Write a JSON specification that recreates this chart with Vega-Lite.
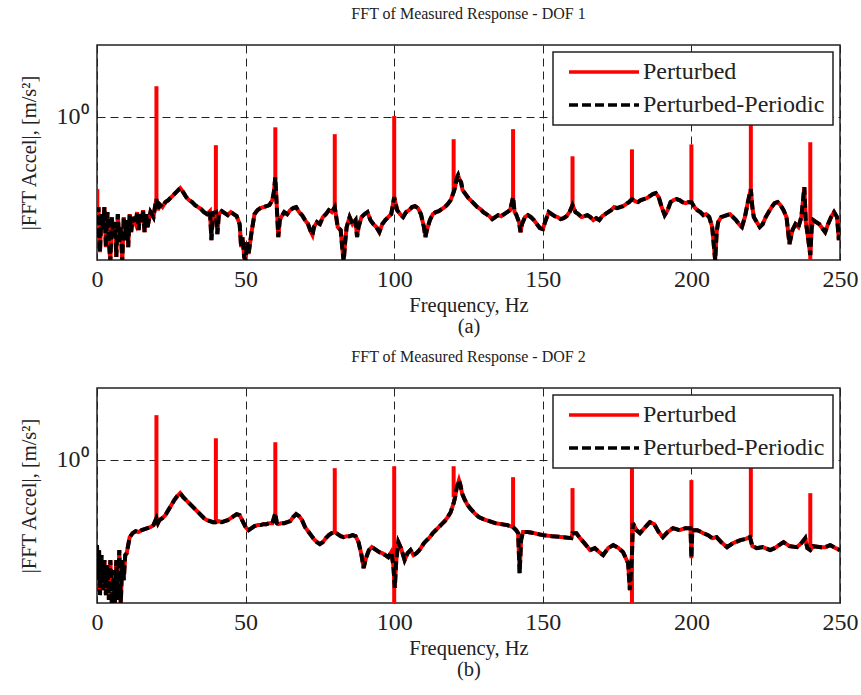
{
"$schema": "https://vega.github.io/schema/vega-lite/v6.json",
"background": "white",
"padding": {"left": 18, "top": 5, "right": 5, "bottom": 5},
"spacing": 10,
"config": {
  "font": "Liberation Serif",
  "view": {"stroke": "#222", "strokeWidth": 1.5},
  "axis": {"labelFont": "Liberation Serif", "titleFont": "Liberation Serif", "labelFontSize": 24, "titleFontSize": 20.5, "labelColor": "#222", "titleColor": "#222", "titleFontWeight": "normal", "domain": false, "ticks": false, "grid": true, "gridColor": "#222", "gridDash": [8, 5], "gridOpacity": 1, "gridWidth": 1, "labelFlush": false},
  "title": {"font": "Liberation Serif", "fontSize": 16, "fontWeight": "normal", "color": "#222", "offset": 23},
  "legend": {"strokeWidth": 1.5}
},
"datasets": {
"b1": [
{"f":0,"b":0.0209},{"f":0.5,"b":0.0547},{"f":1,"b":0.0129},{"f":1.5,"b":0.0436},{"f":2,"b":0.0261},{"f":2.5,"b":0.0547},{"f":3,"b":0.0151},{"f":3.5,"b":0.0466},{"f":4,"b":0.0178},{"f":4.5,"b":0.0095},{"f":5,"b":0.0397},{"f":5.5,"b":0.0209},{"f":6,"b":0.0338},{"f":6.5,"b":0.0110},{"f":7,"b":0.0436},{"f":7.5,"b":0.0178},{"f":8,"b":0.0288},{"f":8.5,"b":0.0095},{"f":9,"b":0.0397},{"f":9.5,"b":0.0190},{"f":10,"b":0.0360},{"f":10.5,"b":0.0151},{"f":11,"b":0.0436},{"f":11.5,"b":0.0245},{"f":12,"b":0.0397},{"f":13,"b":0.0317},{"f":13.5,"b":0.0466},{"f":14,"b":0.0261},{"f":14.5,"b":0.0436},{"f":15,"b":0.0338},{"f":15.5,"b":0.0496},{"f":16,"b":0.0245},{"f":16.5,"b":0.0436},{"f":17,"b":0.0288},{"f":18,"b":0.0466},{"f":19,"b":0.0397},{"f":19.5,"b":0.0547},{"f":20,"b":0.0707},{"f":20.5,"b":0.0496},{"f":21,"b":0.0602},{"f":22,"b":0.0547},{"f":23,"b":0.0642},{"f":24,"b":0.0684},{"f":25,"b":0.0754},{"f":26,"b":0.0830},{"f":27,"b":0.0914},{"f":28,"b":0.1007},{"f":29,"b":0.0885},{"f":30,"b":0.0754},{"f":31,"b":0.0684},{"f":32,"b":0.0642},{"f":33,"b":0.0583},{"f":34,"b":0.0547},{"f":35,"b":0.0513},{"f":36,"b":0.0466},{"f":37,"b":0.0436},{"f":38,"b":0.0481},{"f":38.5,"b":0.0190},{"f":39,"b":0.0451},{"f":40,"b":0.0466},{"f":40.5,"b":0.0230},{"f":41,"b":0.0436},{"f":42,"b":0.0481},{"f":43,"b":0.0451},{"f":44,"b":0.0423},{"f":45,"b":0.0466},{"f":46,"b":0.0436},{"f":47,"b":0.0409},{"f":48,"b":0.0317},{"f":48.5,"b":0.0151},{"f":49,"b":0.0209},{"f":49.5,"b":0.0110},{"f":50,"b":0.0098},{"f":50.5,"b":0.0178},{"f":51,"b":0.0121},{"f":52,"b":0.0245},{"f":53,"b":0.0436},{"f":54,"b":0.0496},{"f":55,"b":0.0529},{"f":56,"b":0.0547},{"f":57,"b":0.0564},{"f":58,"b":0.0583},{"f":59,"b":0.0684},{"f":59.5,"b":0.0885},{"f":60,"b":0.1433},{"f":60.5,"b":0.0547},{"f":61,"b":0.0209},{"f":61.5,"b":0.0360},{"f":62,"b":0.0397},{"f":63,"b":0.0466},{"f":64,"b":0.0436},{"f":65,"b":0.0496},{"f":66,"b":0.0529},{"f":67,"b":0.0547},{"f":68,"b":0.0466},{"f":69,"b":0.0423},{"f":70,"b":0.0360},{"f":71,"b":0.0317},{"f":72,"b":0.0245},{"f":72.5,"b":0.0223},{"f":73,"b":0.0288},{"f":74,"b":0.0338},{"f":75,"b":0.0317},{"f":76,"b":0.0397},{"f":77,"b":0.0436},{"f":78,"b":0.0496},{"f":79,"b":0.0466},{"f":80,"b":0.0547},{"f":80.5,"b":0.0397},{"f":81,"b":0.0288},{"f":82,"b":0.0261},{"f":82.5,"b":0.0151},{"f":83,"b":0.0094},{"f":83.5,"b":0.0178},{"f":84,"b":0.0288},{"f":85,"b":0.0397},{"f":86,"b":0.0317},{"f":87,"b":0.0360},{"f":87.5,"b":0.0209},{"f":88,"b":0.0288},{"f":89,"b":0.0397},{"f":90,"b":0.0436},{"f":91,"b":0.0466},{"f":92,"b":0.0360},{"f":93,"b":0.0317},{"f":94,"b":0.0288},{"f":95,"b":0.0245},{"f":96,"b":0.0317},{"f":97,"b":0.0360},{"f":98,"b":0.0397},{"f":99,"b":0.0436},{"f":100,"b":0.0754},{"f":101,"b":0.0496},{"f":102,"b":0.0436},{"f":103,"b":0.0397},{"f":104,"b":0.0466},{"f":105,"b":0.0496},{"f":106,"b":0.0547},{"f":107,"b":0.0564},{"f":108,"b":0.0529},{"f":109,"b":0.0436},{"f":110,"b":0.0288},{"f":110.5,"b":0.0209},{"f":111,"b":0.0261},{"f":112,"b":0.0360},{"f":113,"b":0.0436},{"f":114,"b":0.0466},{"f":115,"b":0.0481},{"f":116,"b":0.0513},{"f":117,"b":0.0547},{"f":118,"b":0.0602},{"f":119,"b":0.0684},{"f":120,"b":0.0885},{"f":120.5,"b":0.1039},{"f":121,"b":0.1387},{"f":121.5,"b":0.1527},{"f":122,"b":0.1301},{"f":122.5,"b":0.1221},{"f":123,"b":0.0944},{"f":124,"b":0.0830},{"f":125,"b":0.0730},{"f":126,"b":0.0663},{"f":127,"b":0.0602},{"f":128,"b":0.0547},{"f":129,"b":0.0513},{"f":130,"b":0.0466},{"f":131,"b":0.0436},{"f":132,"b":0.0409},{"f":133,"b":0.0372},{"f":134,"b":0.0397},{"f":135,"b":0.0423},{"f":136,"b":0.0409},{"f":137,"b":0.0436},{"f":138,"b":0.0466},{"f":139,"b":0.0496},{"f":140,"b":0.0754},{"f":140.5,"b":0.0466},{"f":141,"b":0.0436},{"f":142,"b":0.0338},{"f":142.5,"b":0.0245},{"f":143,"b":0.0317},{"f":144,"b":0.0397},{"f":145,"b":0.0423},{"f":146,"b":0.0397},{"f":147,"b":0.0360},{"f":148,"b":0.0317},{"f":149,"b":0.0279},{"f":150,"b":0.0270},{"f":151,"b":0.0360},{"f":152,"b":0.0466},{"f":153,"b":0.0436},{"f":154,"b":0.0409},{"f":155,"b":0.0397},{"f":156,"b":0.0372},{"f":157,"b":0.0384},{"f":158,"b":0.0409},{"f":159,"b":0.0466},{"f":160,"b":0.0583},{"f":161,"b":0.0466},{"f":162,"b":0.0436},{"f":163,"b":0.0397},{"f":164,"b":0.0409},{"f":165,"b":0.0423},{"f":166,"b":0.0397},{"f":167,"b":0.0360},{"f":168,"b":0.0384},{"f":169,"b":0.0360},{"f":170,"b":0.0409},{"f":171,"b":0.0436},{"f":172,"b":0.0466},{"f":173,"b":0.0496},{"f":174,"b":0.0547},{"f":175,"b":0.0529},{"f":176,"b":0.0547},{"f":177,"b":0.0564},{"f":178,"b":0.0602},{"f":179,"b":0.0642},{"f":180,"b":0.0707},{"f":181,"b":0.0663},{"f":182,"b":0.0642},{"f":183,"b":0.0684},{"f":184,"b":0.0707},{"f":185,"b":0.0730},{"f":186,"b":0.0778},{"f":187,"b":0.0830},{"f":188,"b":0.0857},{"f":189,"b":0.0754},{"f":190,"b":0.0547},{"f":191,"b":0.0423},{"f":192,"b":0.0496},{"f":193,"b":0.0642},{"f":194,"b":0.0684},{"f":195,"b":0.0707},{"f":196,"b":0.0684},{"f":197,"b":0.0642},{"f":198,"b":0.0621},{"f":199,"b":0.0642},{"f":200,"b":0.0642},{"f":201,"b":0.0547},{"f":202,"b":0.0496},{"f":203,"b":0.0466},{"f":204,"b":0.0423},{"f":205,"b":0.0436},{"f":206,"b":0.0397},{"f":207,"b":0.0288},{"f":208,"b":0.0098},{"f":208.5,"b":0.0245},{"f":209,"b":0.0338},{"f":210,"b":0.0397},{"f":211,"b":0.0409},{"f":212,"b":0.0423},{"f":213,"b":0.0436},{"f":214,"b":0.0397},{"f":215,"b":0.0360},{"f":216,"b":0.0317},{"f":217,"b":0.0288},{"f":218,"b":0.0397},{"f":219,"b":0.0642},{"f":220,"b":0.0975},{"f":220.5,"b":0.0547},{"f":221,"b":0.0397},{"f":222,"b":0.0338},{"f":223,"b":0.0288},{"f":224,"b":0.0317},{"f":225,"b":0.0397},{"f":226,"b":0.0466},{"f":227,"b":0.0547},{"f":228,"b":0.0621},{"f":229,"b":0.0642},{"f":230,"b":0.0583},{"f":231,"b":0.0496},{"f":232,"b":0.0397},{"f":233,"b":0.0167},{"f":234,"b":0.0261},{"f":235,"b":0.0317},{"f":236,"b":0.0288},{"f":237,"b":0.0397},{"f":238,"b":0.1039},{"f":238.5,"b":0.0338},{"f":239,"b":0.0245},{"f":240,"b":0.0117},{"f":240.5,"b":0.0288},{"f":241,"b":0.0360},{"f":242,"b":0.0338},{"f":243,"b":0.0317},{"f":244,"b":0.0279},{"f":245,"b":0.0245},{"f":246,"b":0.0317},{"f":247,"b":0.0397},{"f":248,"b":0.0466},{"f":249,"b":0.0397},{"f":249.6,"b":0.0190},{"f":250,"b":0.0288}
],
"s1": [
{"f":0.1,"lo":0.0209,"hi":0.0975},{"f":20,"lo":0.0707,"hi":2.66},{"f":40,"lo":0.0466,"hi":0.40},{"f":60,"lo":0.1433,"hi":0.71},{"f":80,"lo":0.0547,"hi":0.57},{"f":100,"lo":0.0754,"hi":1.02},{"f":120,"lo":0.0885,"hi":0.485},{"f":140,"lo":0.0754,"hi":0.67},{"f":160,"lo":0.0583,"hi":0.28},{"f":180,"lo":0.0707,"hi":0.35},{"f":200,"lo":0.0642,"hi":0.41},{"f":220,"lo":0.0975,"hi":0.84},{"f":240,"lo":0.0098,"hi":0.44}
],
"b2": [
{"f":0,"b":0.0642},{"f":0.3,"b":0.0209},{"f":0.7,"b":0.0547},{"f":1,"b":0.0129},{"f":1.5,"b":0.0466},{"f":2,"b":0.0151},{"f":2.5,"b":0.0397},{"f":3,"b":0.0129},{"f":3.5,"b":0.0338},{"f":4,"b":0.0110},{"f":4.5,"b":0.0397},{"f":5,"b":0.0095},{"f":5.5,"b":0.0288},{"f":6,"b":0.0095},{"f":6.5,"b":0.0397},{"f":7,"b":0.0110},{"f":7.5,"b":0.0547},{"f":8,"b":0.0095},{"f":8.5,"b":0.0397},{"f":9,"b":0.0209},{"f":9.5,"b":0.0466},{"f":10,"b":0.0496},{"f":11,"b":0.0830},{"f":12,"b":0.0944},{"f":13,"b":0.1007},{"f":14,"b":0.0975},{"f":15,"b":0.1039},{"f":16,"b":0.1073},{"f":17,"b":0.1108},{"f":18,"b":0.1145},{"f":19,"b":0.1221},{"f":20,"b":0.1527},{"f":20.5,"b":0.1301},{"f":21,"b":0.1433},{"f":22,"b":0.1527},{"f":23,"b":0.1682},{"f":24,"b":0.1976},{"f":25,"b":0.2320},{"f":26,"b":0.2723},{"f":27,"b":0.3094},{"f":28,"b":0.341},{"f":29,"b":0.300},{"f":30,"b":0.2723},{"f":31,"b":0.2474},{"f":32,"b":0.2247},{"f":33,"b":0.2040},{"f":34,"b":0.1852},{"f":35,"b":0.1682},{"f":36,"b":0.1527},{"f":37,"b":0.1433},{"f":38,"b":0.1387},{"f":39,"b":0.1343},{"f":40,"b":0.1343},{"f":41,"b":0.1387},{"f":42,"b":0.1343},{"f":43,"b":0.1387},{"f":44,"b":0.1433},{"f":45,"b":0.1527},{"f":46,"b":0.1629},{"f":47,"b":0.1737},{"f":48,"b":0.1682},{"f":49,"b":0.1387},{"f":50,"b":0.1145},{"f":51,"b":0.1039},{"f":52,"b":0.1108},{"f":53,"b":0.1182},{"f":54,"b":0.1221},{"f":55,"b":0.1221},{"f":56,"b":0.1260},{"f":57,"b":0.1260},{"f":58,"b":0.1301},{"f":59,"b":0.1301},{"f":60,"b":0.1794},{"f":60.5,"b":0.1301},{"f":61,"b":0.1260},{"f":62,"b":0.1301},{"f":63,"b":0.1301},{"f":64,"b":0.1343},{"f":65,"b":0.1387},{"f":66,"b":0.1577},{"f":67,"b":0.1737},{"f":68,"b":0.1629},{"f":69,"b":0.1433},{"f":70,"b":0.1145},{"f":71,"b":0.1007},{"f":72,"b":0.0885},{"f":73,"b":0.0778},{"f":74,"b":0.0707},{"f":75,"b":0.0663},{"f":76,"b":0.0707},{"f":77,"b":0.0804},{"f":78,"b":0.0885},{"f":79,"b":0.0944},{"f":80,"b":0.0975},{"f":81,"b":0.0914},{"f":82,"b":0.0857},{"f":83,"b":0.0830},{"f":84,"b":0.0857},{"f":85,"b":0.0857},{"f":86,"b":0.0885},{"f":87,"b":0.0857},{"f":88,"b":0.0707},{"f":89,"b":0.0466},{"f":89.7,"b":0.0307},{"f":90.5,"b":0.0423},{"f":91.5,"b":0.0547},{"f":92.5,"b":0.0602},{"f":94,"b":0.0547},{"f":95,"b":0.0513},{"f":96,"b":0.0496},{"f":97,"b":0.0466},{"f":98,"b":0.0436},{"f":99,"b":0.0513},{"f":99.7,"b":0.0338},{"f":100.2,"b":0.0162},{"f":100.7,"b":0.0397},{"f":101.4,"b":0.0707},{"f":102.3,"b":0.0583},{"f":103.5,"b":0.0397},{"f":104.5,"b":0.0496},{"f":105.5,"b":0.0547},{"f":106.5,"b":0.0466},{"f":107.5,"b":0.0496},{"f":108.5,"b":0.0547},{"f":110,"b":0.0684},{"f":111,"b":0.0754},{"f":112,"b":0.0830},{"f":113,"b":0.0944},{"f":114,"b":0.1039},{"f":115,"b":0.1145},{"f":116,"b":0.1260},{"f":117,"b":0.1387},{"f":118,"b":0.1577},{"f":119,"b":0.1852},{"f":120,"b":0.2474},{"f":120.5,"b":0.300},{"f":121,"b":0.400},{"f":121.8,"b":0.518},{"f":122.3,"b":0.441},{"f":122.8,"b":0.341},{"f":123.5,"b":0.2907},{"f":124.5,"b":0.2397},{"f":125.5,"b":0.2107},{"f":127,"b":0.1794},{"f":128.5,"b":0.1577},{"f":130,"b":0.1479},{"f":132,"b":0.1387},{"f":134,"b":0.1301},{"f":136,"b":0.1260},{"f":138,"b":0.1221},{"f":140,"b":0.1145},{"f":141,"b":0.1039},{"f":141.7,"b":0.0944},{"f":142.2,"b":0.0261},{"f":142.7,"b":0.0754},{"f":143.3,"b":0.0975},{"f":145,"b":0.0975},{"f":147,"b":0.0944},{"f":150,"b":0.0885},{"f":153,"b":0.0857},{"f":156.8,"b":0.0830},{"f":159.6,"b":0.0804},{"f":160,"b":0.0944},{"f":161.3,"b":0.0944},{"f":162.5,"b":0.0804},{"f":164,"b":0.0684},{"f":165.9,"b":0.0547},{"f":167.5,"b":0.0583},{"f":169,"b":0.0513},{"f":170.3,"b":0.0466},{"f":172,"b":0.0583},{"f":173.7,"b":0.0642},{"f":175.5,"b":0.0583},{"f":177,"b":0.0513},{"f":178.7,"b":0.0360},{"f":179.3,"b":0.0151},{"f":180,"b":0.0466},{"f":180.3,"b":0.1301},{"f":181.5,"b":0.1039},{"f":182.7,"b":0.0944},{"f":184.5,"b":0.1145},{"f":186,"b":0.1343},{"f":187.5,"b":0.1260},{"f":189,"b":0.0975},{"f":190.4,"b":0.0830},{"f":192,"b":0.0975},{"f":193.8,"b":0.1108},{"f":196,"b":0.1039},{"f":198,"b":0.1108},{"f":199.7,"b":0.1108},{"f":200,"b":0.0423},{"f":200.3,"b":0.1039},{"f":202,"b":0.1039},{"f":204,"b":0.0944},{"f":205.6,"b":0.0885},{"f":207,"b":0.0804},{"f":208.5,"b":0.0830},{"f":210,"b":0.0707},{"f":212,"b":0.0602},{"f":214,"b":0.0684},{"f":216.5,"b":0.0754},{"f":218,"b":0.0778},{"f":219.7,"b":0.0830},{"f":220.5,"b":0.0621},{"f":222,"b":0.0583},{"f":224,"b":0.0602},{"f":226.5,"b":0.0547},{"f":228,"b":0.0583},{"f":230,"b":0.0663},{"f":231,"b":0.0707},{"f":233,"b":0.0621},{"f":235.5,"b":0.0602},{"f":237,"b":0.0684},{"f":238.3,"b":0.0804},{"f":239,"b":0.0583},{"f":240,"b":0.0547},{"f":241,"b":0.0621},{"f":243.4,"b":0.0602},{"f":245,"b":0.0602},{"f":246.7,"b":0.0642},{"f":248.5,"b":0.0583},{"f":250,"b":0.0547}
],
"s2": [
{"f":20,"lo":0.1527,"hi":4.18},{"f":40,"lo":0.1343,"hi":1.99},{"f":60,"lo":0.1794,"hi":1.75},{"f":80,"lo":0.0975,"hi":0.761},{"f":100,"lo":0.0095,"hi":0.811},{"f":120,"lo":0.300,"hi":0.81},{"f":140,"lo":0.1145,"hi":0.570},{"f":160,"lo":0.0944,"hi":0.401},{"f":180,"lo":0.0095,"hi":1.12},{"f":200,"lo":0.1039,"hi":0.518},{"f":220,"lo":0.0830,"hi":0.81},{"f":240,"lo":0.0547,"hi":0.341}
]
},
"resolve": {"scale": {"color": "independent", "strokeDash": "independent"}},
"vconcat": [
{
  "width": 743, "height": 215,
  "title": "FFT of Measured Response - DOF 1",
  "encoding": {"x": {"field": "f", "type": "quantitative", "scale": {"domain": [0, 250], "nice": false}, "axis": {"values": [0, 50, 100, 150, 200, 250], "title": ["Frequency, Hz", "(a)"], "labelPadding": 7, "titlePadding": 4, "titleLineHeight": 21}}},
  "layer": [
    {"data": {"name": "b1"}, "mark": {"type": "line", "strokeWidth": 4, "clip": true},
     "encoding": {
       "y": {"field": "b", "type": "quantitative", "scale": {"type": "log", "domain": [0.01, 10], "nice": false}, "axis": {"values": [1], "labelExpr": "'10⁰'", "title": "|FFT Accel|, [m/s²]", "labelPadding": 9, "titlePadding": 17}},
       "color": {"datum": "Perturbed", "type": "nominal", "scale": {"domain": ["Perturbed", "Perturbed-Periodic"], "range": ["#ff0000", "#000000"]},
         "legend": {"orient": "top-right", "offset": 7, "title": null, "symbolType": "M-5,0H5", "symbolSize": 196, "symbolStrokeWidth": 3.5, "symbolOffset": 31, "labelFontSize": 24, "labelFont": "Liberation Serif", "labelColor": "#222", "labelLimit": 400, "padding": 8, "rowPadding": 9, "fillColor": "white", "strokeColor": "#222", "labelOffset": 27}},
       "strokeDash": {"datum": "Perturbed", "type": "nominal", "scale": {"domain": ["Perturbed", "Perturbed-Periodic"], "range": [[1, 0], [9, 4]]},
         "legend": {"orient": "top-right", "offset": 7, "title": null, "symbolType": "M-5,0H5", "symbolSize": 196, "symbolStrokeWidth": 3.5, "symbolOffset": 31, "labelFontSize": 24, "labelFont": "Liberation Serif", "labelColor": "#222", "labelLimit": 400, "padding": 8, "rowPadding": 9, "fillColor": "white", "strokeColor": "#222", "labelOffset": 27}}
     }},
    {"data": {"name": "s1"}, "mark": {"type": "rule", "color": "#ff0000", "strokeWidth": 4, "clip": true},
     "encoding": {"y": {"field": "lo", "type": "quantitative"}, "y2": {"field": "hi"}}},
    {"data": {"name": "b1"}, "mark": {"type": "line", "strokeWidth": 4, "clip": true},
     "encoding": {
       "y": {"field": "b", "type": "quantitative"},
       "color": {"datum": "Perturbed-Periodic", "type": "nominal"},
       "strokeDash": {"datum": "Perturbed-Periodic", "type": "nominal"}
     }}
  ]
},
{
  "width": 743, "height": 215,
  "title": "FFT of Measured Response - DOF 2",
  "encoding": {"x": {"field": "f", "type": "quantitative", "scale": {"domain": [0, 250], "nice": false}, "axis": {"values": [0, 50, 100, 150, 200, 250], "title": ["Frequency, Hz", "(b)"], "labelPadding": 7, "titlePadding": 4, "titleLineHeight": 21}}},
  "layer": [
    {"data": {"name": "b2"}, "mark": {"type": "line", "strokeWidth": 4, "clip": true},
     "encoding": {
       "y": {"field": "b", "type": "quantitative", "scale": {"type": "log", "domain": [0.01, 10], "nice": false}, "axis": {"values": [1], "labelExpr": "'10⁰'", "title": "|FFT Accel|, [m/s²]", "labelPadding": 9, "titlePadding": 17}},
       "color": {"datum": "Perturbed", "type": "nominal", "scale": {"domain": ["Perturbed", "Perturbed-Periodic"], "range": ["#ff0000", "#000000"]},
         "legend": {"orient": "top-right", "offset": 7, "title": null, "symbolType": "M-5,0H5", "symbolSize": 196, "symbolStrokeWidth": 3.5, "symbolOffset": 31, "labelFontSize": 24, "labelFont": "Liberation Serif", "labelColor": "#222", "labelLimit": 400, "padding": 8, "rowPadding": 9, "fillColor": "white", "strokeColor": "#222", "labelOffset": 27}},
       "strokeDash": {"datum": "Perturbed", "type": "nominal", "scale": {"domain": ["Perturbed", "Perturbed-Periodic"], "range": [[1, 0], [9, 4]]},
         "legend": {"orient": "top-right", "offset": 7, "title": null, "symbolType": "M-5,0H5", "symbolSize": 196, "symbolStrokeWidth": 3.5, "symbolOffset": 31, "labelFontSize": 24, "labelFont": "Liberation Serif", "labelColor": "#222", "labelLimit": 400, "padding": 8, "rowPadding": 9, "fillColor": "white", "strokeColor": "#222", "labelOffset": 27}}
     }},
    {"data": {"name": "s2"}, "mark": {"type": "rule", "color": "#ff0000", "strokeWidth": 4, "clip": true},
     "encoding": {"y": {"field": "lo", "type": "quantitative"}, "y2": {"field": "hi"}}},
    {"data": {"name": "b2"}, "mark": {"type": "line", "strokeWidth": 4, "clip": true},
     "encoding": {
       "y": {"field": "b", "type": "quantitative"},
       "color": {"datum": "Perturbed-Periodic", "type": "nominal"},
       "strokeDash": {"datum": "Perturbed-Periodic", "type": "nominal"}
     }}
  ]
}
]
}
